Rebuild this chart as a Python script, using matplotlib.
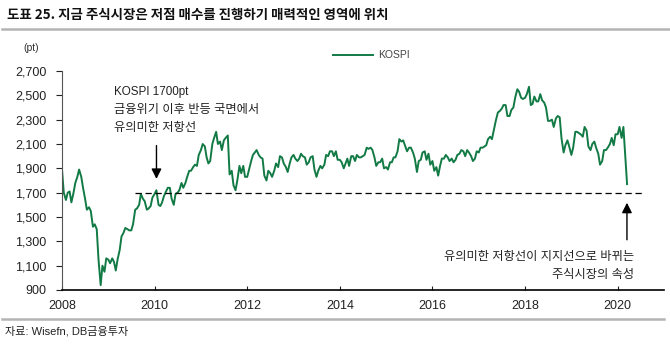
import numpy as np
import pandas as pd
import matplotlib
matplotlib.use("Agg")
import matplotlib.pyplot as plt

plt.rcParams['font.family'] = ['Liberation Sans', 'Noto Sans CJK KR']

# KOSPI, semi-monthly (1st / 15th) values
kospi_2008 = [1890, 1700, 1640, 1700, 1710, 1620, 1700, 1780, 1830, 1890, 1830, 1740,
              1650, 1560, 1580, 1550, 1420, 1440, 1400, 1150, 940, 1100, 1050, 1160]
kospi_2009 = [1150, 1120, 1160, 1130, 1060, 1150, 1230, 1340, 1370, 1410, 1400, 1390,
              1390, 1440, 1560, 1570, 1600, 1690, 1650, 1630, 1560, 1570, 1590, 1660]
kospi_2010 = [1690, 1720, 1600, 1590, 1620, 1670, 1710, 1740, 1740, 1650, 1600, 1690,
              1700, 1720, 1780, 1740, 1780, 1830, 1880, 1880, 1910, 1930, 1920, 2010]
kospi_2011 = [2050, 2100, 2080, 1990, 1940, 1960, 2100, 2150, 2200, 2100, 2120, 2050,
              2130, 2150, 2170, 1850, 1880, 1760, 1720, 1800, 1920, 1860, 1920, 1830]
kospi_2012 = [1830, 1890, 1960, 2010, 2030, 2050, 2010, 1990, 1980, 1840, 1800, 1880,
              1860, 1830, 1880, 1940, 1910, 2000, 1990, 1940, 1910, 1870, 1940, 1990]
kospi_2013 = [2010, 1980, 1960, 1980, 2020, 2000, 1990, 1930, 1950, 1990, 2000, 1890,
              1830, 1880, 1920, 1900, 1930, 2010, 2000, 2040, 2040, 2000, 2040, 1970]
kospi_2014 = [1970, 1950, 1900, 1940, 1980, 1920, 2000, 2000, 1960, 2010, 1990, 1990,
              2000, 2010, 2070, 2060, 2070, 2050, 1990, 1920, 1950, 1950, 1980, 1900]
kospi_2015 = [1910, 1890, 1950, 1950, 1990, 1990, 2040, 2140, 2120, 2130, 2080, 2040,
              2070, 2070, 2030, 1980, 1870, 1960, 1970, 2030, 2040, 1970, 2020, 1930]
kospi_2016 = [1960, 1880, 1910, 1840, 1920, 1980, 1980, 2010, 1990, 1960, 1980, 1950,
              1970, 2010, 2020, 2050, 2040, 2000, 2050, 2030, 2000, 1960, 1980, 2040]
kospi_2017 = [2030, 2070, 2070, 2080, 2090, 2140, 2160, 2140, 2220, 2290, 2360, 2370,
              2390, 2420, 2420, 2330, 2330, 2380, 2400, 2480, 2550, 2530, 2480, 2470]
kospi_2018 = [2480, 2510, 2570, 2420, 2430, 2490, 2450, 2450, 2510, 2460, 2440, 2400,
              2290, 2290, 2300, 2240, 2310, 2330, 2320, 2150, 2030, 2090, 2130, 2080]
kospi_2019 = [2010, 2070, 2200, 2200, 2190, 2180, 2160, 2240, 2210, 2080, 2050, 2100,
              2120, 2070, 2020, 1930, 1960, 2050, 2050, 2070, 2100, 2150, 2090, 2180]
kospi_2020 = [2180, 2240, 2150, 2240, 2000, 1770]

kospi = (kospi_2008 + kospi_2009 + kospi_2010 + kospi_2011 + kospi_2012 + kospi_2013
         + kospi_2014 + kospi_2015 + kospi_2016 + kospi_2017 + kospi_2018 + kospi_2019
         + kospi_2020)
dates = pd.date_range('2008-01-01', periods=len(kospi), freq='SMS')
years = dates.year + (dates.dayofyear - 1) / 365.25

support = 1700
support_span = [2009.58, 2020.53]
x_ticks = [2008, 2010, 2012, 2014, 2016, 2018, 2020]
y_ticks = list(range(900, 2701, 200))

W, H = 670, 350
fig = plt.figure(figsize=(W / 100, H / 100), dpi=100)


def fx(x):
    return x / W


def fy(y):
    return 1 - y / H


ax = fig.add_axes([fx(62), fy(290), fx(664) - fx(62), fy(71) - fy(290)])
ax.plot(years, kospi, color='#127a45', lw=1.4, label='KOSPI')
ax.plot(support_span, [support, support], color='black', lw=0.9, ls=(0, (5, 3)))

ax.set_xlim(2008, 2021.0)
ax.set_ylim(900, 2700)
ax.set_xticks(x_ticks)
ax.set_yticks(y_ticks)
ax.set_yticklabels([f'{v:,}' for v in y_ticks])
ax.tick_params(axis='y', direction='out', length=4, width=0.8, labelsize=9,
               colors='#222222', pad=7)
ax.tick_params(axis='x', direction='in', length=3, width=0.8, labelsize=9,
               colors='#222222', pad=7)
for s in ['top', 'right']:
    ax.spines[s].set_visible(False)
ax.spines['left'].set_color('#555555')
ax.spines['bottom'].set_linewidth(1.2)

# annotations
ax.annotate('', xy=(2010.04, 1790), xytext=(2010.04, 2110),
            arrowprops=dict(arrowstyle='-|>', color='black', lw=1, mutation_scale=15))
ax.annotate('', xy=(2020.2, 1640), xytext=(2020.2, 1290),
            arrowprops=dict(arrowstyle='-|>', color='black', lw=1, mutation_scale=15))

fig.text(fx(114), fy(92), 'KOSPI 1700pt', fontsize=8.4, va='center', color='#222222')
fig.text(fx(114), fy(110), '금융위기 이후 반등 국면에서', fontsize=8.8, va='center', color='#222222')
fig.text(fx(114), fy(128), '유의미한 저항선', fontsize=8.8, va='center', color='#222222')
fig.text(fx(634), fy(257), '유의미한 저항선이 지지선으로 바뀌는', fontsize=8.8, va='center',
         ha='right', color='#222222')
fig.text(fx(634), fy(275), '주식시장의 속성', fontsize=8.8, va='center', ha='right', color='#222222')

# legend
fig.add_artist(plt.Line2D([fx(333), fx(373)], [fy(55), fy(55)], color='#127a45', lw=1.4))
fig.text(fx(378), fy(55), 'KOSPI', fontsize=7.5, va='center', color='#444444')

fig.text(fx(31), fy(48), '(pt)', fontsize=7.5, va='center', ha='center', color='#333333')

# title, rules, source
fig.text(fx(7), fy(15), '도표 25. 지금 주식시장은 저점 매수를 진행하기 매력적인 영역에 위치',
         fontsize=9.7, fontweight='bold', va='center', color='#111111',
         family=['Noto Sans CJK KR'])
fig.add_artist(plt.Line2D([fx(2), fx(670)], [fy(29), fy(29)], color='#b4b4b4', lw=1.8))
fig.add_artist(plt.Line2D([fx(2), fx(664)], [fy(319), fy(319)], color='#b4b4b4', lw=1.8))
fig.text(fx(5), fy(331), '자료: Wisefn, DB금융투자', fontsize=8, va='center', color='#222222')

fig.savefig('out.png', dpi=100)
